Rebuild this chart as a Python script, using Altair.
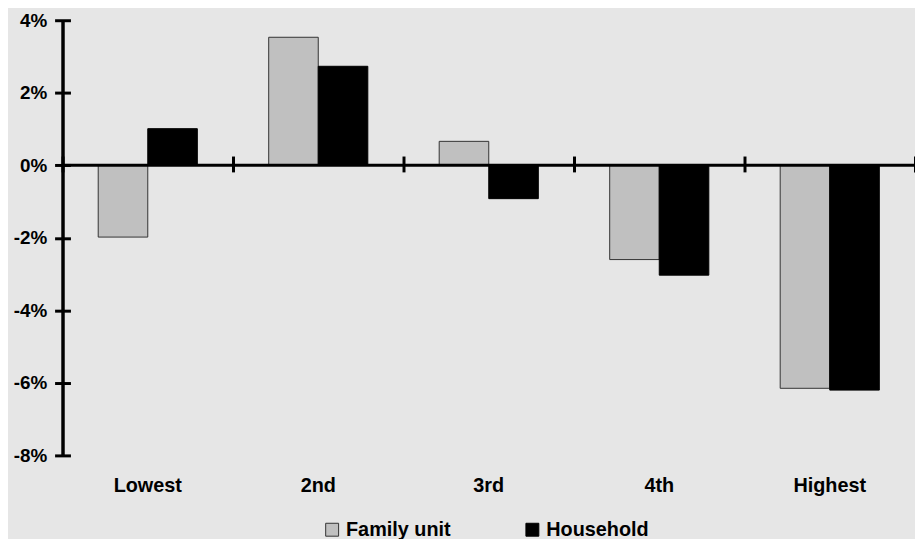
import altair as alt
import pandas as pd

categories = ["Lowest", "2nd", "3rd", "4th", "Highest"]
series = ["Family unit", "Household"]
family_unit = [-1.98, 3.53, 0.66, -2.6, -6.15]
household = [1.01, 2.73, -0.92, -3.03, -6.2]
y_ticks = [-8, -6, -4, -2, 0, 2, 4]

rows = []
for c, f, h in zip(categories, family_unit, household):
    rows.append({"cat": c, "series": series[0], "value": f})
    rows.append({"cat": c, "series": series[1], "value": h})
df = pd.DataFrame(rows)
zero_df = pd.DataFrame({"zero": [0]})

FONT = "Liberation Sans"
W, H = 860, 439

xscale = alt.Scale(domain=categories, paddingInner=0, paddingOuter=0)
yscale = alt.Scale(domain=[-8, 4], nice=False)

legend_kw = dict(title=None, orient="none", direction="horizontal",
                 legendX=262, legendY=504, symbolType="square",
                 symbolSize=170, labelFont=FONT, labelFontSize=20,
                 labelFontWeight="bold", labelColor="black",
                 labelOffset=4, columnPadding=72, symbolStrokeWidth=1)

bars = alt.Chart(df).mark_bar(strokeWidth=1).encode(
    x=alt.X("cat:N", scale=xscale, sort=categories, title=None,
            axis=alt.Axis(orient="bottom", domain=False, ticks=False, labelAngle=0,
                          labelFont=FONT, labelFontSize=20, labelFontWeight="bold",
                          labelColor="black", labelPadding=20)),
    xOffset=alt.XOffset("series:N", sort=series,
                        scale=alt.Scale(paddingInner=0, paddingOuter=0.72)),
    y=alt.Y("value:Q", scale=yscale, title=None,
            axis=alt.Axis(orient="left", values=y_ticks, offset=-8, domain=False,
                          tickSize=16, tickWidth=3, tickColor="black", grid=False,
                          labelExpr="datum.value + '%'", labelFont=FONT, labelFontSize=19,
                          labelFontWeight="bold", labelColor="black", labelPadding=8)),
    fill=alt.Fill("series:N", sort=series,
                  scale=alt.Scale(domain=series, range=["#c0c0c0", "#000000"]),
                  legend=alt.Legend(**legend_kw)),
    stroke=alt.Stroke("series:N", sort=series,
                      scale=alt.Scale(domain=series, range=["#333333", "#000000"]),
                      legend=alt.Legend(**legend_kw)),
)

zero_line = alt.Chart(zero_df).mark_rule(color="black", strokeWidth=3).encode(
    y=alt.Y("zero:Q", scale=yscale, axis=None),
)

# crossing tick marks along zero line (top axis moved into the plot) and y-axis line
xticks_layer = alt.Chart(df).mark_point(opacity=0).encode(
    x=alt.X("cat:N", scale=xscale, sort=categories, title=None,
            axis=alt.Axis(orient="top", offset=-153, domain=False, labels=False,
                          tickBand="extent", tickSize=16, tickWidth=3, tickColor="black")),
    y=alt.Y("value:Q", scale=yscale, title=None,
            axis=alt.Axis(orient="right", offset=-W, domain=True, domainWidth=3.5,
                          domainColor="black", ticks=False, labels=False, grid=False,
                          values=[])),
)

chart = alt.layer(bars, zero_line, xticks_layer).resolve_axis(
    x="independent", y="independent"
).properties(
    width=W, height=H,
    background="#e6e6e6",
    padding={"left": 55, "top": 10, "right": 0, "bottom": 82},
    autosize=alt.AutoSizeParams(type="none"),
).configure_view(stroke=None)

chart.save("out.html", embed_options={"renderer": "svg", "actions": False})
